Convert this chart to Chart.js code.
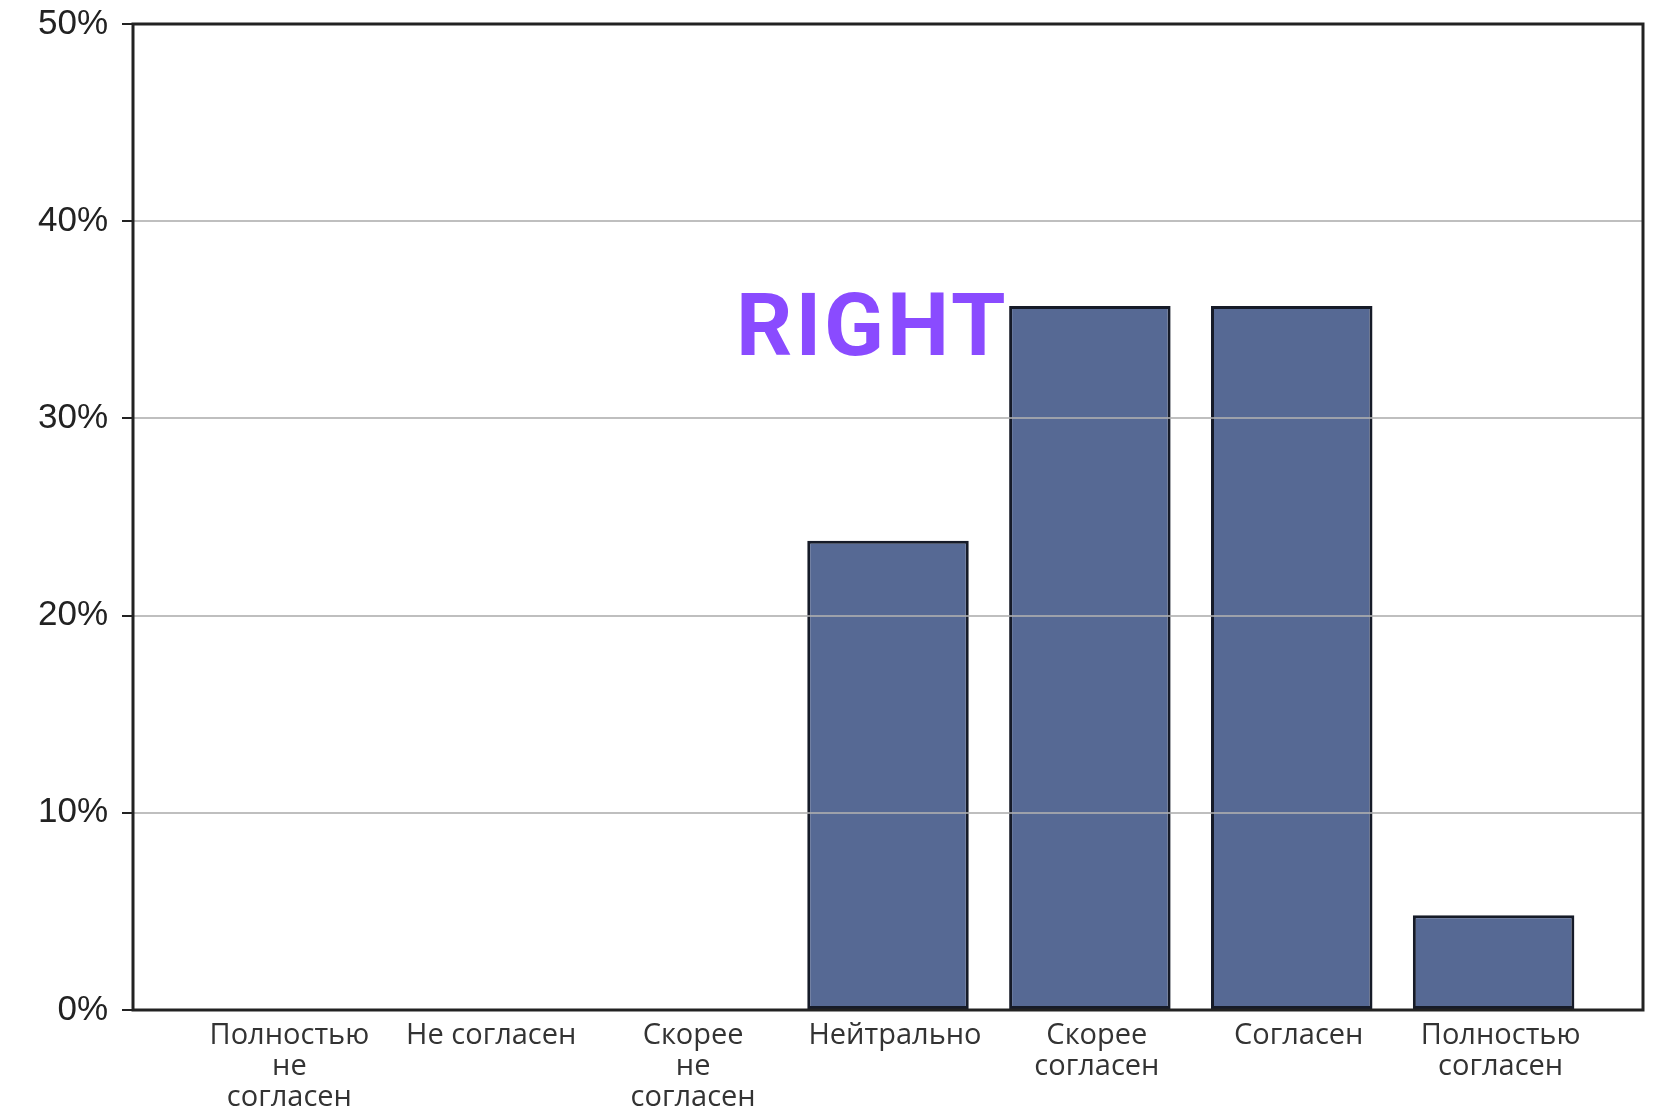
<!DOCTYPE html>
<html>
<head>
<meta charset="utf-8">
<script src="https://cdn.jsdelivr.net/npm/chart.js@4.4.1/dist/chart.umd.min.js"></script>
<style>
body{margin:0;background:#fff;}
#wrap{position:relative;width:1668px;height:1109px;}
#tag{position:absolute;left:736px;top:281px;font-family:Roboto,sans-serif;font-weight:700;font-size:88px;line-height:1;letter-spacing:3px;color:#8a4bff;}
</style>
</head>
<body>
<div id="wrap">
<canvas id="chart"></canvas>
<div id="tag">RIGHT</div>
</div>
<script>
// ========== Data ==========
const categories=[
    ['Полностью','не','согласен'],
    ['Не согласен'],
    ['Скорее','не','согласен'],
    ['Нейтрально'],
    ['Скорее','согласен'],
    ['Согласен'],
    ['Полностью','согласен']
];
const shares=[0,0,0,23.8,35.7,35.7,4.8];
const yTicks=[0,10,20,30,40,50];

// ========== Frame ==========
const frame={
    id:'frame',
    afterDraw(c){
        const a=c.chartArea, ctx=c.ctx;
        ctx.save();
        ctx.strokeStyle='#222';
        ctx.lineWidth=3;
        ctx.strokeRect(a.left,a.top,a.right-a.left,a.bottom-a.top);
        ctx.restore();
    }
};

new Chart(document.getElementById('chart'),{
    type:'bar',
    data:{datasets:[{
        data:shares.map((v,i)=>({x:i,y:v})),
        backgroundColor:'#566994',
        borderColor:'#161b28',
        borderWidth:3,
        borderSkipped:false,
        barPercentage:0.8,
        categoryPercentage:1
    }]},
    options:{
        responsive:true,maintainAspectRatio:false,animation:false,
        layout:{padding:{top:24,right:25,left:0,bottom:0}},
        plugins:{legend:{display:false},tooltip:{enabled:false}},
        scales:{
            x:{
                type:'linear',min:-0.74,max:6.74,offset:false,
                afterBuildTicks:s=>{s.ticks=categories.map((c,i)=>({value:i}));},
                afterFit:s=>{s.height=99;s.paddingLeft=0;s.paddingRight=0;},
                grid:{display:false,offset:false},
                border:{display:false},
                ticks:{
                    autoSkip:false,maxRotation:0,padding:2,labelOffset:7,
                    color:'#333',
                    font:{family:'"Open Sans"',size:29,lineHeight:1.07},
                    callback:v=>categories[v]
                }
            },
            y:{
                min:0,max:50,
                afterBuildTicks:s=>{s.ticks=yTicks.map(v=>({value:v}));},
                afterFit:s=>{s.width=133;s.paddingTop=0;s.paddingBottom=0;},
                border:{display:false},
                grid:{z:1,color:'rgba(175,175,175,0.8)',lineWidth:2,tickLength:11,tickColor:'#222',tickWidth:2},
                ticks:{
                    padding:14,color:'#222',
                    font:{family:'"Liberation Sans"',size:35},
                    callback:v=>v+'%'
                }
            }
        }
    },
    plugins:[frame]
});
</script>
</body>
</html>
